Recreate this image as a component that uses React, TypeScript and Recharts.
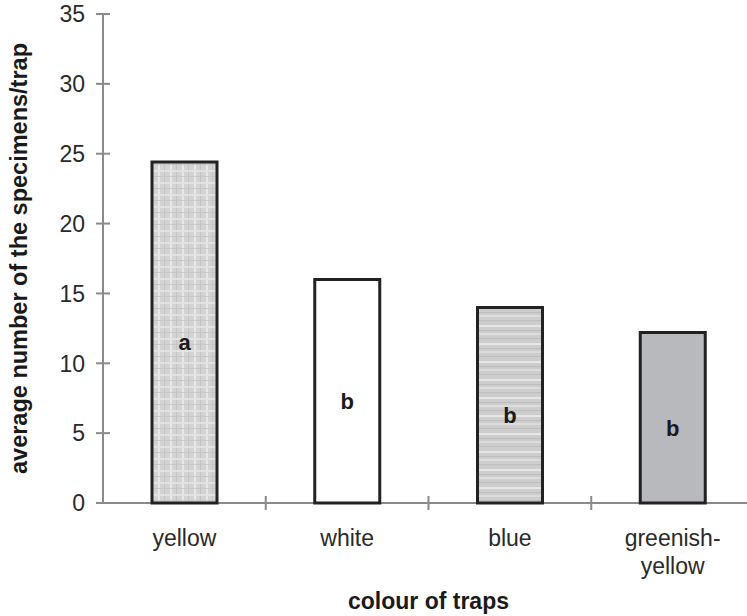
import React from "react";
import { Bar, BarChart, Cell, LabelList, XAxis, YAxis } from "recharts";

const CATEGORIES = ["yellow", "white", "blue", "greenish-yellow"];
const VALUES = [24.4, 16, 14, 12.2];
const GROUPS = ["a", "b", "b", "b"];
const Y_TICKS = [0, 5, 10, 15, 20, 25, 30, 35];

const FILLS = ["url(#plaid)", "#ffffff", "url(#stripes)", "#b8b9bd"];
const FONT = "'Liberation Sans', Arial, Helvetica, sans-serif";
const AXIS = "#8a8a8a";

const data = CATEGORIES.map((category, i) => ({ category, value: VALUES[i], group: GROUPS[i] }));

const W = 770;
const H = 616;
const PLOT_LEFT = 103;
const PLOT_RIGHT = 754;
const BAND = (PLOT_RIGHT - PLOT_LEFT) / CATEGORIES.length;

function YTick(props: any) {
  const { x, y, payload } = props;
  return (
    <g>
      <line x1={x - 7} x2={x + 7} y1={y} y2={y} stroke={AXIS} strokeWidth={2} />
      <text x={x - 18} y={y} dy="0.36em" textAnchor="end" fontSize={23} fontFamily={FONT} fill="#2a2a2a">
        {payload.value}
      </text>
    </g>
  );
}

function XTick(props: any) {
  const { x, y, payload } = props;
  const lines = String(payload.value).split(/(?<=-)/);
  return (
    <g>
      <line x1={x + BAND / 2} x2={x + BAND / 2} y1={y - 7} y2={y + 7} stroke={AXIS} strokeWidth={2} />
      <text textAnchor="middle" fontSize={23} fontFamily={FONT} fill="#2a2a2a">
        {lines.map((l, i) => (
          <tspan key={i} x={x} y={y + 43 + i * 28}>
            {l}
          </tspan>
        ))}
      </text>
    </g>
  );
}

function GroupLabel(props: any) {
  const { x, y, width, height, value } = props;
  return (
    <text
      x={x + width / 2}
      y={y + height / 2 + 10}
      dy="0.36em"
      textAnchor="middle"
      fontSize={22}
      fontWeight="bold"
      fontFamily={FONT}
      fill="#1a1a1a"
    >
      {value}
    </text>
  );
}

export default function App() {
  return (
    <div style={{ position: "fixed", left: 0, top: 0, width: 747, height: 616, overflow: "hidden", background: "#fff" }}>
      <BarChart width={W} height={H} data={data} margin={{ top: 14, right: W - PLOT_RIGHT, bottom: 0, left: 0 }}>
        <defs>
          <pattern id="plaid" width="12" height="12" patternUnits="userSpaceOnUse">
            <rect width="12" height="12" fill="#d3d3d3" />
            <rect x="2" width="2" height="12" fill="#e8e8e8" />
            <rect x="8" width="1" height="12" fill="#c4c4c4" />
            <rect y="2" width="12" height="2" fill="#e6e6e6" opacity="0.8" />
            <rect y="8" width="12" height="1" fill="#c4c4c4" opacity="0.8" />
          </pattern>
          <pattern id="stripes" width="12" height="18" patternUnits="userSpaceOnUse">
            <rect width="12" height="18" fill="#cdcdcd" />
            <rect y="1" width="12" height="2" fill="#e6e6e6" />
            <rect y="6" width="12" height="1" fill="#bcbcbc" />
            <rect y="9" width="12" height="2" fill="#dcdcdc" />
            <rect y="14" width="12" height="1" fill="#bdbdbd" />
          </pattern>
        </defs>
        <XAxis
          dataKey="category"
          height={H - 14 - 489}
          axisLine={{ stroke: AXIS, strokeWidth: 2 }}
          tickLine={false}
          tickSize={0}
          tickMargin={0}
          interval={0}
          tick={<XTick />}
          label={{
            value: "colour of traps",
            position: "insideBottom",
            offset: 7,
            fontSize: 23,
            fontWeight: "bold",
            fontFamily: FONT,
            fill: "#1a1a1a",
          }}
        />
        <YAxis
          domain={[0, 35]}
          ticks={Y_TICKS}
          width={PLOT_LEFT}
          axisLine={{ stroke: AXIS, strokeWidth: 2 }}
          tickLine={false}
          tickSize={0}
          tickMargin={0}
          tick={<YTick />}
          label={{
            value: "average number of the specimens/trap",
            angle: -90,
            position: "insideLeft",
            offset: 19,
            fontSize: 23.5,
            fontWeight: "bold",
            fontFamily: FONT,
            fill: "#1a1a1a",
            style: { textAnchor: "middle" },
          }}
        />
        <Bar
          dataKey="value"
          barSize={65}
          stroke="#222"
          strokeWidth={3}
          isAnimationActive={false}
          {...({ zIndex: 1000 } as any)}
        >
          {data.map((d, i) => (
            <Cell key={d.category} fill={FILLS[i]} />
          ))}
          <LabelList dataKey="group" content={<GroupLabel />} />
        </Bar>
      </BarChart>
    </div>
  );
}
